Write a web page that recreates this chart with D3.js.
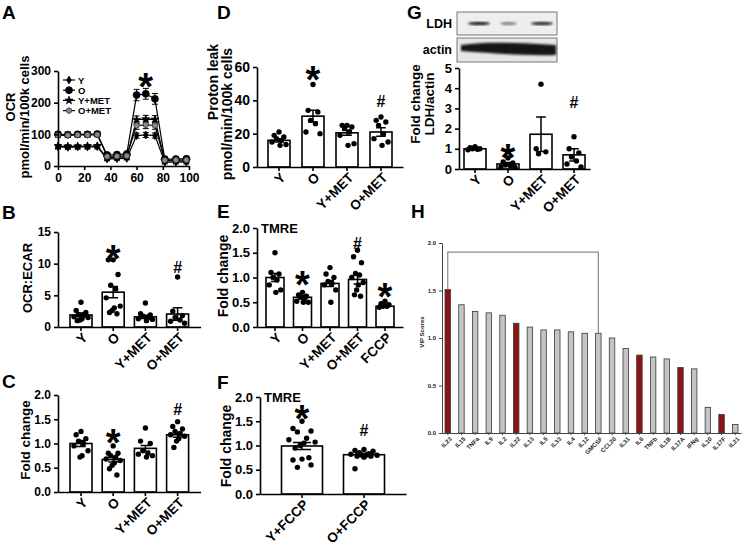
<!DOCTYPE html>
<html>
<head>
<meta charset="utf-8">
<script src="https://cdn.jsdelivr.net/npm/d3@7/dist/d3.min.js"></script>
<style>
  body { margin: 0; background: #fff; }
  svg { display: block; font-family: "Liberation Sans", Arial, sans-serif; font-weight: bold; }
</style>
</head>
<body>
<svg width="744" height="548"></svg>
<script>
// ---------- data ----------
var groups = ["Y", "O", "Y+MET", "O+MET"];

// A: OCR time course
var timeA     = [0, 7.5, 15, 22.5, 30, 37.5, 45, 52.5, 60, 67, 74, 81.5, 90, 98];
var ocrY      = [60, 59, 60, 60, 61, 22, 23, 24, 96, 98, 96, 12, 12, 12];
var ocrYErr   = [4, 4, 4, 4, 4, 3, 3, 3, 8, 8, 8, 2, 2, 2];
var ocrO      = [100, 99, 100, 100, 101, 35, 36, 38, 224, 228, 212, 22, 22, 23];
var ocrOErr   = [8, 8, 8, 8, 8, 5, 5, 5, 18, 17, 17, 4, 4, 4];
var ocrYM     = [63, 62, 62, 63, 63, 26, 27, 29, 146, 148, 147, 16, 16, 16];
var ocrYMErr  = [5, 5, 5, 5, 5, 3, 3, 3, 12, 12, 12, 3, 3, 3];
var ocrOM     = [97, 97, 98, 98, 99, 30, 31, 32, 128, 130, 128, 18, 19, 19];
var ocrOMErr  = [6, 6, 6, 6, 6, 4, 4, 4, 12, 12, 12, 3, 3, 3];

// B: OCR:ECAR
var ratioMean = [1.9, 5.5, 1.6, 2.05];
var ratioSem  = [0.3, 0.9, 0.25, 1.0];
var ratioDots = [
  [3.9, 2.6, 2.3, 2.0, 1.9, 1.6, 1.5, 1.3, 1.1, 1.0],
  [10.6, 10.6, 8.3, 6.6, 6.0, 4.6, 3.3, 3.0, 2.6, 2.3, 2.1],
  [3.8, 2.1, 1.9, 1.7, 1.5, 1.3, 1.2, 1.0],
  [7.9, 2.5, 1.8, 1.5, 1.1, 0.9, 0.6]
];

// C: fold change
var foldCMean = [1.0, 0.67, 0.9, 1.18];
var foldCSem  = [0.06, 0.05, 0.06, 0.05];
var foldCDots = [
  [1.25, 1.18, 1.1, 1.05, 1.0, 0.95, 0.85, 0.75, 0.72],
  [0.95, 0.8, 0.8, 0.75, 0.72, 0.68, 0.65, 0.6, 0.55, 0.48, 0.35],
  [1.32, 1.05, 1.0, 0.85, 0.8, 0.78, 0.75, 0.72],
  [1.45, 1.35, 1.3, 1.25, 1.2, 1.18, 1.15, 1.1, 1.05, 0.92]
];

// D: proton leak
var leakMean = [16, 30.5, 20.5, 21];
var leakSem  = [1.0, 3.5, 1.5, 2.5];
var leakDots = [
  [21, 19, 18, 17, 16, 15, 13.5, 13],
  [49.5, 34, 33, 28, 26, 21, 20],
  [25, 25, 24, 23, 21, 19, 14, 13],
  [30, 28, 27, 25, 20, 17, 15, 13]
];

// E: TMRE
var tmreCats = ["Y", "O", "Y+MET", "O+MET", "FCCP"];
var tmreMean = [1.0, 0.6, 0.88, 0.96, 0.42];
var tmreSem  = [0.08, 0.03, 0.06, 0.09, 0.02];
var tmreDots = [
  [1.5, 1.1, 1.07, 1.0, 0.95, 0.85, 0.75, 0.7],
  [0.7, 0.65, 0.62, 0.6, 0.58, 0.52, 0.5, 0.5],
  [1.2, 1.07, 1.0, 0.92, 0.88, 0.85, 0.75, 0.5],
  [1.55, 1.42, 1.3, 1.08, 1.05, 1.0, 0.9, 0.85, 0.75, 0.65, 0.62],
  [0.52, 0.47, 0.45, 0.42, 0.42, 0.4]
];

// F: TMRE + FCCP
var fccpCats = ["Y+FCCP", "O+FCCP"];
var fccpMean = [0.99, 0.81];
var fccpSem  = [0.07, 0.03];
var fccpDots = [
  [1.5, 1.35, 1.3, 1.28, 1.15, 1.12, 1.07, 1.05, 1.0, 0.95, 0.75, 0.72, 0.7, 0.6, 0.55],
  [0.92, 0.9, 0.88, 0.85, 0.83, 0.82, 0.8, 0.8, 0.8, 0.78, 0.78, 0.76, 0.52]
];

// G: LDH/actin
var ldhMean = [1.0, 0.25, 1.72, 0.7];
var ldhSem  = [0.03, 0.07, 0.85, 0.3];
var ldhDots = [
  [1.1, 1.05, 1.0, 1.0, 0.98, 0.95],
  [0.55, 0.35, 0.3, 0.2, 0.15, 0.1, 0.08],
  [4.2, 1.0, 0.85, 0.75],
  [1.6, 1.0, 0.8, 0.6, 0.4, 0.25, 0.1]
];
var ldhBands = [0.9, 0.45, 0.85];

// H: VIP scores
var cytokines = ["IL23", "IL15", "TNFa", "IL9", "IL2", "IL22", "IL13", "IL5", "IL33", "IL4", "IL12",
  "GMCSF", "CCL20", "IL31", "IL6", "TNFb", "IL1B", "IL17A", "IFNg", "IL10", "IL17F", "IL21"];
var vipScores = [1.51, 1.35, 1.28, 1.265, 1.24, 1.155, 1.115, 1.085, 1.085, 1.065, 1.05,
  1.05, 1.0, 0.89, 0.82, 0.80, 0.78, 0.69, 0.675, 0.27, 0.195, 0.09];
var vipRed = ["IL23", "IL22", "IL6", "IL17A", "IL17F"];

// ---------- drawing ----------
var svg = d3.select("svg");
var FONT = '"Liberation Sans", Arial, sans-serif';
var jit = [0, -0.55, 0.55, -0.28, 0.28, -0.8, 0.8, 0.12, -0.12, -0.42, 0.42];

function styleAxis(sel, fs, col, sw) {
  sel.attr("font-family", FONT).attr("font-size", fs);
  sel.select(".domain").attr("stroke", col || "#000").attr("stroke-width", sw || 1.6);
  sel.selectAll(".tick line").attr("stroke", col || "#000").attr("stroke-width", sw || 1.6);
  sel.selectAll(".tick text").attr("fill", "#000").style("font-weight", "bold");
}

function letter(t, x, y) {
  svg.append("text").attr("x", x).attr("y", y).attr("font-size", 19).text(t);
}

function ytitle(lines, fs) {
  lines.forEach(function (l) {
    svg.append("text")
      .attr("transform", "translate(" + l.x + "," + l.y + ") rotate(-90)")
      .attr("text-anchor", "middle").attr("font-size", fs).text(l.t);
  });
}

function mark(g, x, y, ch) {
  var fs = ch === "*" ? 38 : 16;
  var off = ch === "*" ? 0.58 * fs : 0.36 * fs;
  g.append("text").attr("x", x).attr("y", y + off).attr("text-anchor", "middle")
    .attr("font-size", fs).text(ch);
}

function barPanel(p) {
  var n = p.cats.length;
  var pin = 1 - p.bw / p.step;
  var pout = (p.c0 - p.bw / 2 - p.x0) / p.step;
  var x1 = p.x0 + p.step * (n - pin + 2 * pout);
  var x = d3.scaleBand().domain(p.cats).range([p.x0, x1]).paddingInner(pin).paddingOuter(pout);
  var y = d3.scaleLinear().domain([0, p.ymax]).range([p.yb, p.yt]);
  var g = svg.append("g");
  var cx = function (c) { return x(c) + x.bandwidth() / 2; };

  g.selectAll("rect.bar").data(p.cats).join("rect").attr("class", "bar")
    .attr("x", function (d) { return x(d); })
    .attr("width", x.bandwidth())
    .attr("y", function (d, i) { return y(p.mean[i]); })
    .attr("height", function (d, i) { return y(0) - y(p.mean[i]); })
    .attr("fill", "#fff").attr("stroke", "#000").attr("stroke-width", 1.6);

  p.cats.forEach(function (c, i) {
    g.selectAll(null).data(p.dots[i]).join("circle")
      .attr("cx", function (d, j) { return cx(c) + jit[j % jit.length] * x.bandwidth() * 0.4; })
      .attr("cy", function (d) { return y(d); })
      .attr("r", 2.7).attr("fill", "#000");
    var m = p.mean[i], s = p.sem[i], cw = x.bandwidth() * 0.22;
    var top = y(m + s), bot = y(Math.max(0, m - s)), c0 = cx(c);
    g.append("path")
      .attr("d", "M" + c0 + "," + top + "V" + bot +
        "M" + (c0 - cw) + "," + top + "H" + (c0 + cw) +
        "M" + (c0 - cw) + "," + bot + "H" + (c0 + cw))
      .attr("stroke", "#000").attr("stroke-width", 1.5).attr("fill", "none");
  });

  var ya = g.append("g").attr("transform", "translate(" + p.x0 + ",0)")
    .call(d3.axisLeft(y).tickValues(p.ticks).tickFormat(d3.format(p.fmt)).tickSize(4).tickSizeOuter(0));
  styleAxis(ya, p.fs);
  var xa = g.append("g").attr("transform", "translate(0," + p.yb + ")")
    .call(d3.axisBottom(x).tickSize(4).tickSizeOuter(0));
  styleAxis(xa, p.xfs || 13.5);
  xa.selectAll(".tick text")
    .attr("x", 0).attr("y", 0).attr("dy", "0.35em")
    .attr("text-anchor", "end")
    .attr("transform", "translate(4,8) rotate(-45)");

  (p.marks || []).forEach(function (mk) { mark(g, cx(mk.cat), y(mk.at), mk.sym); });
  if (p.inner) {
    g.append("text").attr("x", p.x0 + 4).attr("y", y(p.ymax) + 5).attr("font-size", p.fs).text(p.inner);
  }
  return { x: x, y: y, g: g };
}

// ---- A
letter("A", 2, 19);
var xA = d3.scaleLinear().domain([0, 100]).range([58, 189]);
var yA = d3.scaleLinear().domain([0, 300]).range([166, 71]);
var gA = svg.append("g");
var seriesA = [
  { name: "Y", v: ocrY, e: ocrYErr, sym: d3.symbolDiamond, size: 18, fill: "#000", stroke: "#000" },
  { name: "O", v: ocrO, e: ocrOErr, sym: d3.symbolCircle, size: 38, fill: "#000", stroke: "#000" },
  { name: "Y+MET", v: ocrYM, e: ocrYMErr, sym: d3.symbolStar, size: 20, fill: "#000", stroke: "#000" },
  { name: "O+MET", v: ocrOM, e: ocrOMErr, sym: d3.symbolCircle, size: 24, fill: "#8a8a8a", stroke: "#333" }
];
var lineA = d3.line().x(function (d, i) { return xA(timeA[i]); }).y(function (d) { return yA(d); });
seriesA.forEach(function (s) {
  gA.append("path").attr("d", lineA(s.v)).attr("fill", "none").attr("stroke", "#000").attr("stroke-width", 1.2);
  s.v.forEach(function (v, i) {
    var xx = xA(timeA[i]);
    gA.append("path")
      .attr("d", "M" + xx + "," + yA(v + s.e[i]) + "V" + yA(v - s.e[i]) +
        "M" + (xx - 3) + "," + yA(v + s.e[i]) + "H" + (xx + 3) +
        "M" + (xx - 3) + "," + yA(v - s.e[i]) + "H" + (xx + 3))
      .attr("stroke", "#000").attr("stroke-width", 1).attr("fill", "none");
  });
  gA.selectAll(null).data(s.v).join("path")
    .attr("transform", function (d, i) { return "translate(" + xA(timeA[i]) + "," + yA(d) + ")"; })
    .attr("d", d3.symbol(s.sym, s.size))
    .attr("fill", s.fill).attr("stroke", s.stroke).attr("stroke-width", 0.8);
});
var yaA = gA.append("g").attr("transform", "translate(58,0)")
  .call(d3.axisLeft(yA).tickValues([0, 100, 200, 300]).tickSize(4).tickSizeOuter(0));
styleAxis(yaA, 12);
var xaA = gA.append("g").attr("transform", "translate(0,166)")
  .call(d3.axisBottom(xA).tickValues([0, 20, 40, 60, 80, 100]).tickSize(4).tickSizeOuter(0));
styleAxis(xaA, 12);
seriesA.forEach(function (s, i) {
  var ly = 80 + i * 10.2;
  gA.append("line").attr("x1", 63).attr("x2", 75).attr("y1", ly).attr("y2", ly).attr("stroke", "#000").attr("stroke-width", 1.2);
  gA.append("path").attr("transform", "translate(69," + ly + ")").attr("d", d3.symbol(s.sym, s.size))
    .attr("fill", s.fill).attr("stroke", s.stroke).attr("stroke-width", 0.8);
  gA.append("text").attr("x", 78).attr("y", ly + 3.5).attr("font-size", 9.5).text(s.name);
});
mark(gA, xA(67), 78, "*");
ytitle([{ t: "OCR", x: 15, y: 107 }, { t: "pmol/min/100k cells", x: 29, y: 117 }], 13);

// ---- B
letter("B", 2, 219);
barPanel({ cats: groups, mean: ratioMean, sem: ratioSem, dots: ratioDots,
  x0: 58, c0: 81, step: 32.2, bw: 22, yb: 327, yt: 232, ymax: 15,
  ticks: [0, 5, 10, 15], fmt: "d", fs: 12,
  marks: [{ cat: "O", sym: "*", at: 12.2 }, { cat: "O+MET", sym: "#", at: 9.5 }] });
ytitle([{ t: "OCR:ECAR", x: 32, y: 278 }], 13);

// ---- C
letter("C", 2, 388);
barPanel({ cats: groups, mean: foldCMean, sem: foldCSem, dots: foldCDots,
  x0: 58, c0: 81, step: 32.2, bw: 22, yb: 492, yt: 395, ymax: 2,
  ticks: [0, 0.5, 1, 1.5, 2], fmt: ".1f", fs: 12,
  marks: [{ cat: "O", sym: "*", at: 1.2 }, { cat: "O+MET", sym: "#", at: 1.7 }] });
ytitle([{ t: "Fold change", x: 30, y: 440 }], 13.5);

// ---- D
letter("D", 217, 19);
barPanel({ cats: groups, mean: leakMean, sem: leakSem, dots: leakDots,
  x0: 257, c0: 279, step: 34, bw: 22, yb: 167, yt: 67, ymax: 60,
  ticks: [0, 20, 40, 60], fmt: "d", fs: 14,
  marks: [{ cat: "O", sym: "*", at: 57.6 }, { cat: "O+MET", sym: "#", at: 39.5 }] });
ytitle([{ t: "Proton leak", x: 218, y: 82 }, { t: "pmol/min/100k cells", x: 232, y: 114 }], 14);

// ---- E
letter("E", 217, 218);
barPanel({ cats: tmreCats, mean: tmreMean, sem: tmreSem, dots: tmreDots,
  x0: 257, c0: 275, step: 27.5, bw: 18, yb: 327, yt: 228, ymax: 2,
  ticks: [0, 0.5, 1, 1.5, 2], fmt: ".1f", fs: 13, inner: "TMRE",
  marks: [{ cat: "O", sym: "*", at: 1.04 }, { cat: "O+MET", sym: "#", at: 1.7 }, { cat: "FCCP", sym: "*", at: 0.78 }] });
ytitle([{ t: "Fold change", x: 228, y: 276 }], 14);

// ---- F
letter("F", 217, 389);
barPanel({ cats: fccpCats, mean: fccpMean, sem: fccpSem, dots: fccpDots,
  x0: 260, c0: 302, step: 62, bw: 41, yb: 494, yt: 397, ymax: 2,
  ticks: [0, 0.5, 1, 1.5, 2], fmt: ".1f", fs: 13, inner: "TMRE",
  marks: [{ cat: "Y+FCCP", sym: "*", at: 1.73 }, { cat: "O+FCCP", sym: "#", at: 1.32 }] });
ytitle([{ t: "Fold change", x: 231, y: 446 }], 14);

// ---- G
letter("G", 407, 19);
var blot = svg.append("g");
var defs = svg.append("defs");
defs.append("filter").attr("id", "blur").append("feGaussianBlur").attr("stdDeviation", 0.9);
blot.append("rect").attr("x", 457).attr("y", 12).attr("width", 100).attr("height", 23)
  .attr("fill", "#eeeeee").attr("stroke", "#777").attr("stroke-width", 1);
var laneX = [479, 508.5, 542];
var laneW = [11, 8, 11];
ldhBands.forEach(function (b, i) {
  blot.append("ellipse").attr("cx", laneX[i]).attr("cy", 23.5).attr("rx", laneW[i]).attr("ry", 1.8)
    .attr("fill", "#111").attr("opacity", b).attr("filter", "url(#blur)");
});
blot.append("rect").attr("x", 457).attr("y", 38).attr("width", 100).attr("height", 24)
  .attr("fill", "#e6e6e6").attr("stroke", "#777").attr("stroke-width", 1);
blot.append("path")
  .attr("d", "M461,45 C490,41 520,43 556,45 L556,55 C520,56 490,53 461,51 Z")
  .attr("fill", "#151515").attr("filter", "url(#blur)");
blot.append("text").attr("x", 452).attr("y", 28).attr("text-anchor", "end").attr("font-size", 12.5).text("LDH");
blot.append("text").attr("x", 452).attr("y", 54).attr("text-anchor", "end").attr("font-size", 12.5).text("actin");
barPanel({ cats: groups, mean: ldhMean, sem: ldhSem, dots: ldhDots,
  x0: 459, c0: 475, step: 33, bw: 22, yb: 169, yt: 68, ymax: 5,
  ticks: [0, 1, 2, 3, 4, 5], fmt: "d", fs: 13,
  marks: [{ cat: "O", sym: "*", at: 1.0 }, { cat: "O+MET", sym: "#", at: 3.3 }] });
ytitle([{ t: "Fold change", x: 420, y: 104 }, { t: "LDH/actin", x: 434, y: 104 }], 13.5);

// ---- H
letter("H", 411, 218);
var xH = d3.scaleBand().domain(cytokines).range([442, 741]).paddingInner(0.6).paddingOuter(0.22);
var yH = d3.scaleLinear().domain([0, 2]).range([433, 243]);
var gH = svg.append("g");
gH.selectAll("rect").data(cytokines).join("rect")
  .attr("x", function (d) { return xH(d); })
  .attr("width", xH.bandwidth())
  .attr("y", function (d, i) { return yH(vipScores[i]); })
  .attr("height", function (d, i) { return yH(0) - yH(vipScores[i]); })
  .attr("fill", function (d) { return vipRed.indexOf(d) >= 0 ? "#8c1414" : "#c4c4c4"; })
  .attr("stroke", "#3a3a3a").attr("stroke-width", 0.8);
var bx0 = xH("IL23") + xH.bandwidth() / 2, bx1 = xH("GMCSF") + xH.bandwidth() / 2;
gH.append("path")
  .attr("d", "M" + bx0 + "," + yH(vipScores[0]) + "V" + yH(1.905) + "H" + bx1 + "V" + yH(vipScores[11]))
  .attr("fill", "none").attr("stroke", "#8a8a8a").attr("stroke-width", 1.2);
var yaH = gH.append("g").attr("transform", "translate(442,0)")
  .call(d3.axisLeft(yH).tickValues([0, 0.5, 1, 1.5, 2]).tickFormat(d3.format(".1f")).tickSize(3).tickSizeOuter(0));
styleAxis(yaH, 6, "#444", 1);
yaH.selectAll(".tick text").attr("fill", "#222");
var xaH = gH.append("g").attr("transform", "translate(0,433)")
  .call(d3.axisBottom(xH).tickSize(2).tickSizeOuter(0));
styleAxis(xaH, 6, "#444", 1);
xaH.selectAll(".tick text").attr("fill", "#222")
  .attr("x", 0).attr("y", 0).attr("dy", "0.35em").attr("text-anchor", "end")
  .attr("transform", "translate(3,5) rotate(-45)");
gH.append("text").attr("transform", "translate(424,332) rotate(-90)")
  .attr("text-anchor", "middle").attr("font-size", 6).attr("fill", "#222").text("VIP Scores");
</script>
</body>
</html>
